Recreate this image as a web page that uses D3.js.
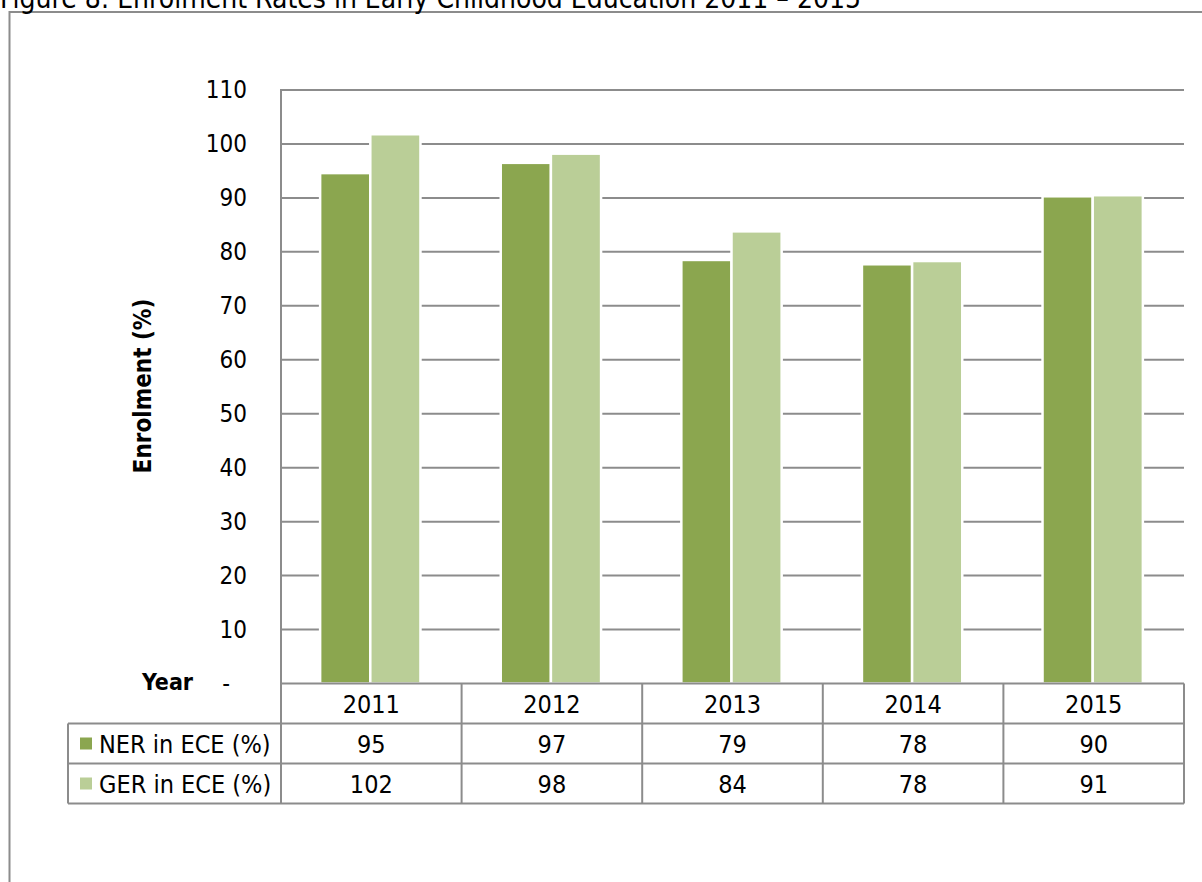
<!DOCTYPE html>
<html>
<head>
<meta charset="utf-8">
<script src="https://cdn.jsdelivr.net/npm/d3@7"></script>
<style>
  html, body { margin: 0; padding: 0; background: #fff; }
  svg { display: block; }
  text { font-family: "DejaVu Sans Condensed", "DejaVu Sans", sans-serif; font-stretch: condensed; fill: #000; }
</style>
</head>
<body>
<script>
const titleText = "Figure 8: Enrolment Rates in Early Childhood Education 2011 – 2015";
const years = ["2011", "2012", "2013", "2014", "2015"];
const seriesNames = ["NER in ECE (%)", "GER in ECE (%)"];
const nerValues = [94.6, 96.5, 78.5, 77.7, 90.3];
const gerValues = [101.8, 98.2, 83.8, 78.3, 90.5];
const yTicks = [0, 10, 20, 30, 40, 50, 60, 70, 80, 90, 100, 110];
const seriesColors = ["#8BA64F", "#BACE97"];
const yAxisTitle = "Enrolment (%)";
const xAxisTitle = "Year";

const W = 1202, H = 882;
const gridColor = "#8C8C8C";
const plotLeft = 281, plotRight = 1184, plotTop = 90, plotBottom = 683.5;
const rowH = 40;

const svg = d3.select("body").append("svg").attr("width", W).attr("height", H);

// outer frame (clipped at right/bottom)
svg.append("path")
  .attr("d", `M9.5,${H + 5} L9.5,12 L${W + 5},12`)
  .attr("fill", "none").attr("stroke", gridColor).attr("stroke-width", 2);

// title (partially clipped at the top, as in the reference)
svg.append("text").attr("x", 0).attr("y", 8)
  .attr("font-size", 28).text(titleText);

const y = d3.scaleLinear().domain([0, 110]).range([plotBottom, plotTop]);
const x = d3.scaleBand().domain(years).range([plotLeft, plotRight]).padding(0);
const bw = x.bandwidth();
const barW = bw / 3.6;
const gapOuter = (bw - 2 * barW) / 2;

// gridlines
svg.append("g").selectAll("line").data(yTicks.filter(t => t > 0)).join("line")
  .attr("x1", plotLeft).attr("x2", plotRight)
  .attr("y1", d => y(d)).attr("y2", d => y(d))
  .attr("stroke", gridColor).attr("stroke-width", 2);

// left axis line
svg.append("line").attr("x1", plotLeft).attr("x2", plotLeft)
  .attr("y1", plotTop - 1).attr("y2", plotBottom + 3 * rowH)
  .attr("stroke", gridColor).attr("stroke-width", 2);

// tick labels
svg.append("g").selectAll("text").data(yTicks).join("text")
  .attr("x", d => d === 0 ? 230 : 247)
  .attr("y", d => y(d))
  .attr("dy", "0.35em")
  .attr("text-anchor", "end")
  .attr("font-size", 24)
  .text(d => d === 0 ? "-" : d);

// bars
const series = [nerValues, gerValues];
series.forEach((vals, si) => {
  svg.append("g").selectAll("rect").data(years).join("rect")
    .attr("x", d => x(d) + gapOuter + si * barW - 1)
    .attr("width", barW)
    .attr("y", (d, i) => y(vals[i]))
    .attr("height", (d, i) => y(0) - y(vals[i]))
    .attr("fill", seriesColors[si])
    .attr("stroke", "#fff").attr("stroke-width", 2.5);
});

// y axis title
svg.append("text")
  .attr("transform", `translate(151,${386}) rotate(-90)`)
  .attr("text-anchor", "middle")
  .attr("font-size", 24).attr("font-weight", "bold")
  .text(yAxisTitle);

// x axis title
svg.append("text").attr("x", 142).attr("y", 690)
  .attr("font-size", 23).attr("font-weight", "bold")
  .text(xAxisTitle);

// data table
const tableLeft = 68;
const tg = svg.append("g");
const lineAttrs = sel => sel.attr("stroke", gridColor).attr("stroke-width", 2);
tg.append("line").attr("x1", plotLeft).attr("x2", plotRight).attr("y1", plotBottom).attr("y2", plotBottom).call(lineAttrs);
[1, 2, 3].forEach(r => {
  tg.append("line").attr("x1", tableLeft).attr("x2", plotRight)
    .attr("y1", plotBottom + r * rowH).attr("y2", plotBottom + r * rowH).call(lineAttrs);
});
tg.append("line").attr("x1", tableLeft).attr("x2", tableLeft)
  .attr("y1", plotBottom + rowH).attr("y2", plotBottom + 3 * rowH).call(lineAttrs);
tg.selectAll("line.v").data(years.slice(1).map(d => x(d)).concat([plotRight])).join("line")
  .attr("class", "v")
  .attr("x1", d => d).attr("x2", d => d)
  .attr("y1", plotBottom).attr("y2", plotBottom + 3 * rowH).call(lineAttrs);

// header row
tg.selectAll("text.yr").data(years).join("text").attr("class", "yr")
  .attr("x", d => x(d) + bw / 2).attr("y", plotBottom + rowH / 2)
  .attr("dy", "0.36em").attr("text-anchor", "middle").attr("font-size", 25)
  .text(d => d);

// series rows
series.forEach((vals, si) => {
  const rowY = plotBottom + (si + 1) * rowH + rowH / 2;
  tg.append("rect").attr("x", 80).attr("y", rowY - 6).attr("width", 12).attr("height", 12)
    .attr("fill", seriesColors[si]);
  tg.append("text").attr("x", 99).attr("y", rowY).attr("dy", "0.36em")
    .attr("font-size", 25).text(seriesNames[si]);
  tg.selectAll("text.v" + si).data(years).join("text").attr("class", "v" + si)
    .attr("x", d => x(d) + bw / 2).attr("y", rowY)
    .attr("dy", "0.36em").attr("text-anchor", "middle").attr("font-size", 25)
    .text((d, i) => Math.round(vals[i]));
});
</script>
</body>
</html>
